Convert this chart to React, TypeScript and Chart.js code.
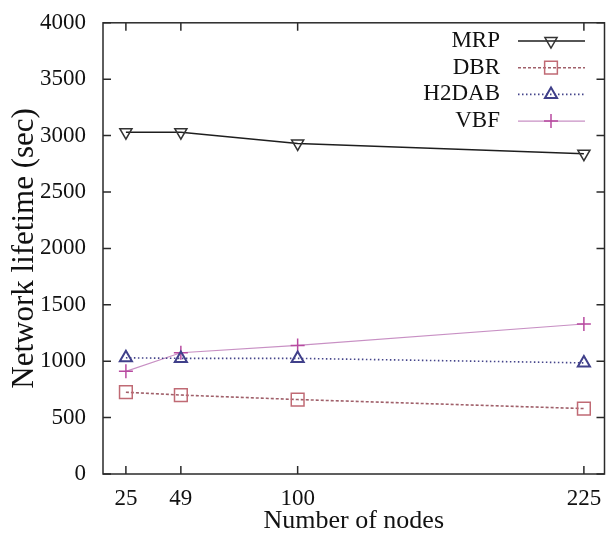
import React, { useEffect, useRef } from "react";
import { Chart, registerables } from "chart.js";
import { drawPoint } from "chart.js/helpers";

Chart.register(...registerables);

const xValues = [25, 49, 100, 225];
const xTickLabels = ["25", "49", "100", "225"];
const mrpValues = [3030, 3030, 2930, 2840];
const dbrValues = [725, 700, 660, 580];
const h2dabValues = [1030, 1025, 1025, 985];
const vbfValues = [910, 1075, 1140, 1330];
const yTicks = [0, 500, 1000, 1500, 2000, 2500, 3000, 3500, 4000];

const SERIF = "'Liberation Serif', 'DejaVu Serif', serif";
Chart.defaults.font.family = SERIF;

const pts = (vals: number[]) => xValues.map((x, i) => ({ x, y: vals[i] }));

const framePlugin = {
  id: "frame",
  afterDatasetsDraw(chart: any) {
    const { ctx, chartArea, scales } = chart;
    const { left, right, top, bottom } = chartArea;
    const x = scales.x;
    const y = scales.y;
    ctx.save();
    ctx.strokeStyle = "#2a2a2a";
    ctx.lineWidth = 1.5;
    ctx.strokeRect(left, top, right - left, bottom - top);
    const tl = 8;
    ctx.beginPath();
    xValues.forEach((v) => {
      const px = x.getPixelForValue(v);
      ctx.moveTo(px, bottom);
      ctx.lineTo(px, bottom - tl);
      ctx.moveTo(px, top);
      ctx.lineTo(px, top + tl);
    });
    yTicks.forEach((v) => {
      const py = y.getPixelForValue(v);
      ctx.moveTo(left, py);
      ctx.lineTo(left + tl, py);
      ctx.moveTo(right, py);
      ctx.lineTo(right - tl, py);
    });
    ctx.stroke();
    ctx.restore();
  },
};

const legendPlugin = {
  id: "gpLegend",
  afterDraw(chart: any) {
    const { ctx } = chart;
    const textRight = 500;
    const lineStart = 518;
    const lineEnd = 585;
    const markerX = 551;
    const rowTop = 41;
    const rowStep = 26.7;
    ctx.save();
    chart.data.datasets.forEach((ds: any, i: number) => {
      const yy = rowTop + i * rowStep;
      ctx.font = `23px ${SERIF}`;
      ctx.fillStyle = "#111";
      ctx.textAlign = "right";
      ctx.textBaseline = "middle";
      ctx.fillText(ds.label, textRight, yy);
      ctx.strokeStyle = ds.borderColor;
      ctx.lineWidth = ds.borderWidth;
      ctx.setLineDash(ds.borderDash || []);
      ctx.beginPath();
      ctx.moveTo(lineStart, yy);
      ctx.lineTo(lineEnd, yy);
      ctx.stroke();
      ctx.setLineDash([]);
      ctx.strokeStyle = ds.pointBorderColor;
      ctx.fillStyle = "rgba(0,0,0,0)";
      ctx.lineWidth = ds.pointBorderWidth;
      drawPoint(
        ctx,
        {
          pointStyle: ds.pointStyle,
          rotation: ds.pointRotation || 0,
          radius: ds.pointRadius,
          borderWidth: ds.pointBorderWidth,
        } as any,
        markerX,
        yy
      );
    });
    ctx.restore();
  },
};

export default function App() {
  const canvasRef = useRef<HTMLCanvasElement | null>(null);

  useEffect(() => {
    if (!canvasRef.current) return;
    const transparent = "rgba(0,0,0,0)";
    const chart = new Chart(canvasRef.current, {
      type: "line",
      data: {
        datasets: [
          {
            label: "MRP",
            data: pts(mrpValues),
            borderColor: "#1e1e1e",
            borderWidth: 1.5,
            borderDash: [],
            backgroundColor: transparent,
            pointStyle: "triangle",
            pointRotation: 180,
            pointRadius: 7,
            pointBorderWidth: 1.5,
            pointBorderColor: "#333333",
            pointBackgroundColor: transparent,
          } as any,
          {
            label: "DBR",
            data: pts(dbrValues),
            borderColor: "#a0606a",
            borderWidth: 1.6,
            borderDash: [3, 2],
            backgroundColor: transparent,
            pointStyle: "rect",
            pointRadius: 9,
            pointBorderWidth: 1.5,
            pointBorderColor: "#c06a74",
            pointBackgroundColor: transparent,
          } as any,
          {
            label: "H2DAB",
            data: pts(h2dabValues),
            borderColor: "#44448a",
            borderWidth: 1.6,
            borderDash: [1.5, 2.5],
            backgroundColor: transparent,
            pointStyle: "triangle",
            pointRadius: 7,
            pointBorderWidth: 2,
            pointBorderColor: "#40408a",
            pointBackgroundColor: transparent,
          } as any,
          {
            label: "VBF",
            data: pts(vbfValues),
            borderColor: "#c890c4",
            borderWidth: 1.2,
            borderDash: [],
            backgroundColor: transparent,
            pointStyle: "cross",
            pointRadius: 7,
            pointBorderWidth: 1.5,
            pointBorderColor: "#b84aa0",
            pointBackgroundColor: transparent,
          } as any,
        ],
      },
      options: {
        animation: false,
        responsive: false,
        maintainAspectRatio: false,
        layout: { padding: { top: 21, right: 4, left: 0, bottom: 0 } },
        plugins: {
          legend: { display: false },
          tooltip: { enabled: false },
        },
        scales: {
          x: {
            type: "linear",
            min: 15,
            max: 234,
            grid: { display: false },
            border: { display: false },
            afterBuildTicks: (scale: any) => {
              scale.ticks = xValues.map((v) => ({ value: v }));
            },
            afterFit: (scale: any) => {
              scale.height = 70;
            },
            ticks: {
              autoSkip: false,
              maxRotation: 0,
              padding: 3,
              color: "#111",
              font: { family: SERIF, size: 23 },
              callback: (v: any) => {
                const idx = xValues.indexOf(Number(v));
                return idx >= 0 ? xTickLabels[idx] : "";
              },
            },
            title: {
              display: true,
              text: "Number of nodes",
              color: "#111",
              font: { family: SERIF, size: 26 },
              padding: { top: 0, bottom: 7 },
            },
          },
          y: {
            type: "linear",
            min: 0,
            max: 4000,
            grid: { display: false },
            border: { display: false },
            afterBuildTicks: (scale: any) => {
              scale.ticks = yTicks.map((v) => ({ value: v }));
            },
            afterFit: (scale: any) => {
              scale.width = 103;
            },
            ticks: {
              padding: 9,
              color: "#111",
              font: { family: SERIF, size: 23 },
              callback: (v: any) => String(v),
            },
            title: {
              display: true,
              text: "Network lifetime (sec)",
              color: "#111",
              font: { family: SERIF, size: 31 },
              padding: { top: 6, bottom: 0 },
            },
          },
        },
      },
      plugins: [framePlugin, legendPlugin],
    } as any);
    return () => chart.destroy();
  }, []);

  return (
    <div style={{ position: "fixed", left: 0, top: 0, width: 615, height: 544, background: "#fff" }}>
      <canvas ref={canvasRef} width={615} height={544} style={{ display: "block" }} />
    </div>
  );
}
